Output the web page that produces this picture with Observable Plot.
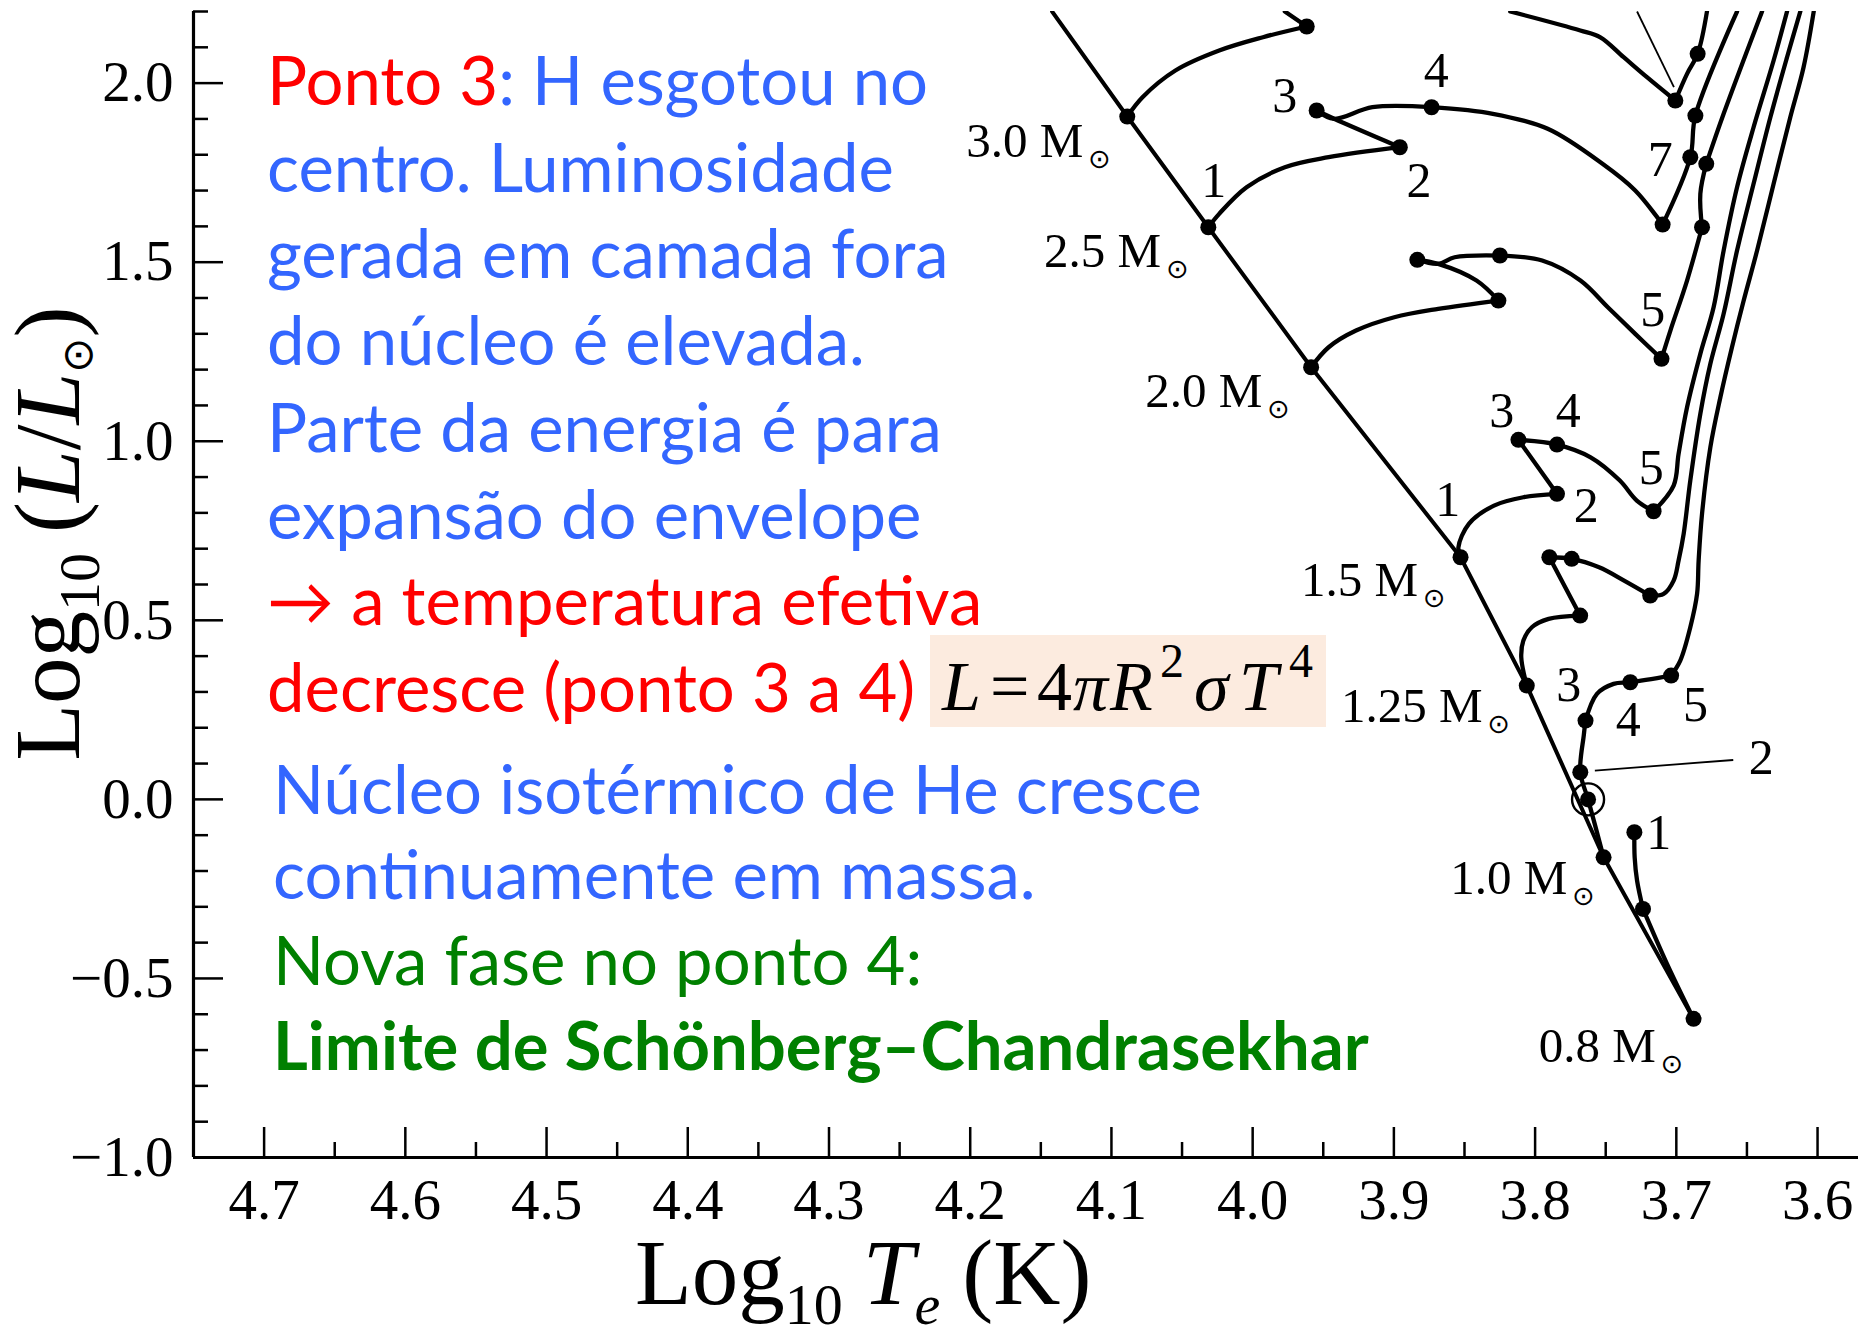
<!DOCTYPE html>
<html lang="pt">
<head>
<meta charset="utf-8">
<title>Trajetórias evolutivas no diagrama HR</title>
<script src="https://cdn.jsdelivr.net/npm/d3@7"></script>
<script src="https://cdn.jsdelivr.net/npm/@observablehq/plot@0.6"></script>
<style>
  html, body { margin: 0; padding: 0; background: #ffffff; }
  #chart svg { display: block; }
</style>
</head>
<body>
<div id="chart"></div>
<script>
// ---------- Axis ticks ----------
const xMajorTicks = [4.7, 4.6, 4.5, 4.4, 4.3, 4.2, 4.1, 4.0, 3.9, 3.8, 3.7, 3.6];
const xMinorTicks = [4.65, 4.55, 4.45, 4.35, 4.25, 4.15, 4.05, 3.95, 3.85, 3.75, 3.65];
const yMajorTicks = [-1.0, -0.5, 0.0, 0.5, 1.0, 1.5, 2.0];
const yMinorTicks = [-0.9, -0.8, -0.7, -0.6, -0.4, -0.3, -0.2, -0.1, 0.1, 0.2, 0.3, 0.4,
                     0.6, 0.7, 0.8, 0.9, 1.1, 1.2, 1.3, 1.4, 1.6, 1.7, 1.8, 1.9, 2.1, 2.2];

// ---------- Zero-age main sequence [log Te, log L/Lsun] ----------
const zams = [[4.142, 2.2], [4.0888, 1.9067], [4.0314, 1.5976], [3.9586, 1.2067],
              [3.8528, 0.6761], [3.8059, 0.3178], [3.7515, -0.1617], [3.6878, -0.6129]];

// ---------- Evolutionary tracks, each split into legs [log Te, log L/Lsun] ----------
const track30 = [
  [[4.0888, 1.9067], [4.0780, 1.9606], [4.0547, 2.0352], [4.0237, 2.0910], [3.9927, 2.1282], [3.9617, 2.1581]],
  [[3.9617, 2.1581], [3.9772, 2.2]],
  [[3.8176, 2.2], [3.768, 2.147], [3.7538, 2.128], [3.7373, 2.0723], [3.7208, 2.0165], [3.7007, 1.9514]],
  [[3.7007, 1.9514], [3.6924, 2.026], [3.6849, 2.0818], [3.6783, 2.2]]
];
const track25 = [
  [[4.0314, 1.5976], [4.0237, 1.635], [4.0043, 1.7093], [3.9772, 1.7651], [3.9462, 1.7931], [3.8958, 1.821]],
  [[3.8958, 1.821], [3.9423, 1.9003], [3.9547, 1.9235]],
  [[3.9547, 1.9235], [3.9423, 1.9003], [3.9152, 1.9327], [3.8733, 1.9327]],
  [[3.8733, 1.9327], [3.8299, 1.9143], [3.7911, 1.8724], [3.7523, 1.7746], [3.7291, 1.7001], [3.7097, 1.6051]],
  [[3.7097, 1.6051], [3.6901, 1.7931], [3.6865, 1.9095], [3.657, 2.2]]
];
const track20 = [
  [[3.9586, 1.2067], [3.9462, 1.2625], [3.9268, 1.3091], [3.8997, 1.3463], [3.8686, 1.3697], [3.826, 1.3929]],
  [[3.826, 1.3929], [3.8415, 1.4488], [3.8686, 1.4954], [3.8834, 1.5066]],
  [[3.8834, 1.5066], [3.8686, 1.4954], [3.857, 1.5138], [3.8249, 1.5186]],
  [[3.8249, 1.5186], [3.795, 1.5046], [3.7679, 1.4488], [3.7485, 1.3742], [3.7291, 1.2999], [3.7105, 1.2301]],
  [[3.7105, 1.2301], [3.7042, 1.3091], [3.6924, 1.4488], [3.6818, 1.5976]],
  [[3.6818, 1.5976], [3.683, 1.6909], [3.6788, 1.7746]],
  [[3.6788, 1.7746], [3.6665, 1.9143], [3.6393, 2.2]]
];
const track15 = [
  [[3.8528, 0.6761], [3.8543, 0.704], [3.8469, 0.7693], [3.8291, 0.8204], [3.8083, 0.8436], [3.7845, 0.8531]],
  [[3.7845, 0.8531], [3.8118, 1.0039]],
  [[3.8118, 1.0039], [3.7845, 0.9908], [3.7607, 0.9553], [3.74, 0.8902], [3.728, 0.8344], [3.7161, 0.8045]],
  [[3.7161, 0.8045], [3.7019, 0.8763], [3.6984, 0.9648], [3.6924, 1.0949], [3.683, 1.2441], [3.6736, 1.3742],
   [3.6665, 1.5325], [3.657, 1.7093], [3.6453, 1.8768], [3.6311, 2.0631], [3.6216, 2.2]]
];
const track125 = [
  [[3.8059, 0.3178], [3.8098, 0.3968], [3.8083, 0.4434], [3.8023, 0.4806], [3.7904, 0.504], [3.7681, 0.5133]],
  [[3.7681, 0.5133], [3.7899, 0.6761]],
  [[3.7899, 0.6761], [3.7741, 0.6716], [3.7547, 0.6481], [3.737, 0.611], [3.7185, 0.5691]],
  [[3.7185, 0.5691], [3.709, 0.5739], [3.7019, 0.611], [3.6984, 0.6669], [3.6948, 0.7414], [3.6901, 0.8902],
   [3.683, 1.0765], [3.6759, 1.2161], [3.6665, 1.3558], [3.657, 1.5325], [3.6453, 1.7188], [3.6334, 1.9048],
   [3.6216, 2.0723], [3.6122, 2.2]]
];
const track10 = [
  [[3.7515, -0.1617], [3.7625, 0.0], [3.768, 0.0757], [3.7655, 0.18], [3.7643, 0.22]],
  [[3.7643, 0.22], [3.7562, 0.2946], [3.7444, 0.3225], [3.7326, 0.327], [3.7037, 0.3457]],
  [[3.7037, 0.3457], [3.6972, 0.3876], [3.6901, 0.4806], [3.6853, 0.5739], [3.6842, 0.6669], [3.6818, 0.7973],
   [3.6759, 0.9833], [3.6688, 1.1229], [3.6606, 1.2625], [3.6523, 1.3929], [3.6428, 1.5325], [3.6311, 1.7188],
   [3.6193, 1.9048], [3.6099, 2.0444], [3.6027, 2.2]]
];
const track08 = [
  [[3.6878, -0.6129], [3.7066, -0.4594], [3.7236, -0.3058]],
  [[3.7236, -0.3058], [3.7278, -0.2267], [3.7295, -0.1617], [3.7297, -0.0918]]
];

// ---------- Marked evolutionary stages ----------
const stagePoints = [
  [4.0888, 1.9067], [3.9617, 2.1581], [3.7007, 1.9514], [3.6849, 2.0818],
  [4.0314, 1.5976], [3.8958, 1.821], [3.9547, 1.9235], [3.8733, 1.9327], [3.7097, 1.6051], [3.6901, 1.7931], [3.6865, 1.9095],
  [3.9586, 1.2067], [3.826, 1.3929], [3.8834, 1.5066], [3.8249, 1.5186], [3.7105, 1.2301], [3.6818, 1.5976], [3.6788, 1.7746],
  [3.8528, 0.6761], [3.7845, 0.8531], [3.8118, 1.0039], [3.7845, 0.9908], [3.7161, 0.8045],
  [3.8059, 0.3178], [3.7681, 0.5133], [3.7899, 0.6761], [3.7741, 0.6716], [3.7185, 0.5691],
  [3.7515, -0.1617], [3.7625, 0.0], [3.768, 0.0757], [3.7643, 0.22], [3.7326, 0.327], [3.7037, 0.3457],
  [3.6878, -0.6129], [3.7236, -0.3058], [3.7297, -0.0918]
];
const sunNow = [[3.7625, 0.0]];

// Mass labels: [mass, log Te at text start, log L at baseline]
const massLabels = [
  ["3.0", 4.2028, 1.7931], ["2.5", 4.1477, 1.4859], ["2.0", 4.0761, 1.0949],
  ["1.5", 3.9658, 0.5691], ["1.25", 3.9375, 0.2153], ["1.0", 3.8601, -0.2639], ["0.8", 3.7975, -0.7342]
];
// Stage numbers: [label, log Te (centre), log L (baseline)]
const stageLabels = [
  ["1", 4.0275, 1.6814], ["2", 3.8822, 1.6814], ["3", 3.9772, 1.9187], ["4", 3.87, 1.9886], ["7", 3.7113, 1.742],
  ["5", 3.7167, 1.3231],
  ["1", 3.8618, 0.7925], ["2", 3.7637, 0.7738], ["3", 3.8237, 1.0391], ["4", 3.7765, 1.0391], ["5", 3.7177, 0.8811],
  ["3", 3.7762, 0.2759], ["4", 3.734, 0.1782], ["5", 3.6865, 0.22], ["2", 3.6398, 0.0712],
  ["1", 3.7125, -0.1382]
];
// Pointer lines: [x1, y1, x2, y2]
const pointers = [[3.7278, 2.2, 3.7017, 1.9886], [3.7577, 0.0804, 3.6597, 0.1099]];

// Axis titles placement
const xTitleAt = 4.2758;
const yTitleAt = 0.742;
const xTitle = "Log10 Te (K)";
const yTitle = "Log10 (L/Lsun)";

// ---------- Text notes ----------
const RED = "#ff0000", BLUE = "#3366ff", GREEN = "#008000";
const notesTop = [
  [["Ponto 3", RED], [": H esgotou no", BLUE]],
  [["centro. Luminosidade", BLUE]],
  [["gerada em camada fora", BLUE]],
  [["do núcleo é elevada.", BLUE]],
  [["Parte da energia é para", BLUE]],
  [["expansão do envelope", BLUE]],
  [["\u2192 a temperatura efetiva", RED]],
  [["decresce (ponto 3 a 4)", RED]]
];
const notesBottom = [
  [["Núcleo isotérmico de He cresce", BLUE]],
  [["continuamente em massa.", BLUE]],
  [["Nova fase no ponto 4:", GREEN]],
  [["Limite de Schönberg\u2013Chandrasekhar", GREEN, "bold"]]
];

// ---------- Layout ----------
const W = 1858, H = 1335;
const M = {left: 193, right: 0, top: 11, bottom: 178};
const frameW = W - M.left - M.right;
const frameH = H - M.top - M.bottom;
const SERIF = "'Liberation Serif', 'Times New Roman', serif";

const tracks = [track30, track25, track20, track15, track125, track10, track08];
const trackRows = tracks.flatMap((legs, i) =>
  legs.flatMap((leg, j) => leg.map(([t, l]) => ({t, l, leg: `${i}-${j}`}))));

const fmt = d => d.toFixed(1).replace("-", "\u2212");

const chart = Plot.plot({
  width: W, height: H,
  marginLeft: M.left, marginRight: M.right, marginTop: M.top, marginBottom: M.bottom,
  x: {domain: [4.75, 3.571]},
  y: {domain: [-1.0, 2.2]},
  style: {fontFamily: SERIF, fontSize: "54px", color: "black", background: "white", overflow: "visible"},
  marks: [
    // inward ticks
    Plot.tickX(xMajorTicks, {x: d => d, insetTop: frameH - 30, strokeWidth: 2.5}),
    Plot.tickX(xMinorTicks, {x: d => d, insetTop: frameH - 15, strokeWidth: 2.5}),
    Plot.tickY(yMajorTicks, {y: d => d, insetRight: frameW - 30, strokeWidth: 2.5}),
    Plot.tickY(yMinorTicks, {y: d => d, insetRight: frameW - 15, strokeWidth: 2.5}),
    Plot.axisX({ticks: xMajorTicks, tickSize: 0, tickPadding: 21, tickFormat: fmt, fontSize: 57, label: null}),
    Plot.axisY({ticks: yMajorTicks, tickSize: 0, tickPadding: 20, tickFormat: fmt, fontSize: 57, label: null}),
    Plot.ruleX([4.75], {strokeWidth: 3.2}),
    Plot.ruleY([-1.0], {strokeWidth: 3.2}),
    // main sequence and tracks
    Plot.line(zams, {x: d => d[0], y: d => d[1], strokeWidth: 4, clip: true}),
    Plot.line(trackRows, {x: "t", y: "l", z: "leg", curve: "catmull-rom", strokeWidth: 4.3,
                          strokeLinejoin: "round", strokeLinecap: "round", clip: true}),
    Plot.link(pointers, {x1: d => d[0], y1: d => d[1], x2: d => d[2], y2: d => d[3], strokeWidth: 1.8, clip: true}),
    Plot.dot(stagePoints, {x: d => d[0], y: d => d[1], r: 8, fill: "black"}),
    Plot.dot(sunNow, {x: d => d[0], y: d => d[1], r: 16, stroke: "black", strokeWidth: 2.4, fill: "none"}),
    // labels
    Plot.text(massLabels, {x: d => d[1], y: d => d[2], text: d => d[0] + " M", textAnchor: "start",
                           lineAnchor: "bottom", fontSize: 49, fontFamily: SERIF}),
    Plot.text(stageLabels, {x: d => d[1], y: d => d[2], text: d => d[0], textAnchor: "middle",
                            lineAnchor: "bottom", fontSize: 50, fontFamily: SERIF}),
    Plot.text([xTitle], {x: xTitleAt, frameAnchor: "bottom", dy: 146, textAnchor: "middle",
                         lineAnchor: "bottom", fontSize: 93, fontFamily: SERIF}),
    Plot.text([yTitle], {y: yTitleAt, frameAnchor: "left", dx: -115, rotate: -90, textAnchor: "middle",
                         lineAnchor: "bottom", fontSize: 93, fontFamily: SERIF})
  ]
});

document.getElementById("chart").appendChild(chart);
const svg = d3.select(chart);
const allTexts = svg.selectAll("text");

// Solar-mass symbol after each mass label
allTexts.filter(function () { return /^\d\.\d+ M$/.test(this.textContent); }).each(function () {
  d3.select(this).append("tspan")
    .attr("dx", 5).attr("dy", 11)
    .attr("font-size", 27).attr("font-family", "'DejaVu Sans', sans-serif")
    .text("\u2299");
});

// Axis titles with subscripts
function richTitle(sel, parts) {
  sel.text(null);
  parts.forEach(([txt, opts = {}]) => {
    const t = sel.append("tspan").text(txt);
    if (opts.italic) t.attr("font-style", "italic");
    if (opts.size) t.attr("font-size", opts.size);
    if (opts.family) t.attr("font-family", opts.family);
    if (opts.dy) t.attr("dy", opts.dy);
    if (opts.dx) t.attr("dx", opts.dx);
  });
}
richTitle(allTexts.filter(function () { return this.textContent === xTitle; }), [
  ["Log"],
  ["10", {size: 58, dy: 20}],
  ["T", {italic: true, dy: -20, dx: 20}],
  ["e", {italic: true, size: 58, dy: 20}],
  ["(K)", {dy: -20, dx: 22}]
]);
richTitle(allTexts.filter(function () { return this.textContent === yTitle; }), [
  ["Log"],
  ["10", {size: 58, dy: 20}],
  ["(", {dy: -20, dx: 20}],
  ["L", {italic: true}],
  ["/"],
  ["L", {italic: true}],
  ["\u2299", {size: 42, family: "'DejaVu Sans', sans-serif", dy: 13}],
  [")", {dy: -13}]
]);

// Text notes
const notes = svg.append("g")
  .attr("text-anchor", "start")
  .attr("font-family", "Lato, 'Open Sans', sans-serif")
  .attr("font-size", 67);
function writeLines(lines, x, y0, step) {
  lines.forEach((parts, i) => {
    const t = notes.append("text").attr("x", x).attr("y", y0 + i * step);
    parts.forEach(([txt, color, weight]) => {
      const s = t.append("tspan").attr("fill", color).text(txt);
      if (weight) s.attr("font-weight", weight);
    });
  });
}
writeLines(notesTop, 267, 105, 86.7);
writeLines(notesBottom, 273, 814, 85.3);

// Stefan–Boltzmann relation in a shaded box
const eq = svg.append("g").attr("text-anchor", "start");
eq.append("rect").attr("x", 930).attr("y", 635).attr("width", 396).attr("height", 92).attr("fill", "#fcebdf");
const eqText = eq.append("text").attr("y", 710).attr("font-family", SERIF).attr("font-size", 70);
[
  ["L", 942, true, 0], ["=", 990, false, 0], ["4", 1037, false, 0], ["\u03c0", 1073, true, 0],
  ["R", 1110, true, 0], ["2", 1160, false, -33], ["\u03c3", 1194, true, 0], ["T", 1239, true, 0], ["4", 1289, false, -33]
].forEach(([c, x, it, up]) => {
  const s = eqText.append("tspan").attr("x", x).attr("y", 710 + up).text(c);
  if (it) s.attr("font-style", "italic");
  if (up) s.attr("font-size", 48);
});
</script>
</body>
</html>
